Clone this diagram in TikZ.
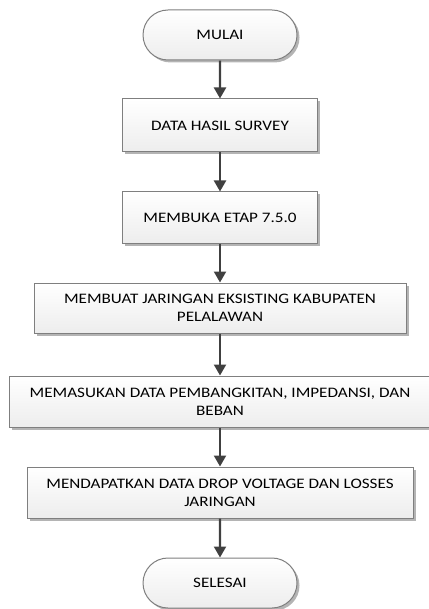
\documentclass[tikz,border=0pt]{standalone}
\usepackage{fontspec}
\setmainfont{Carlito}[FakeStretch=1.18]
\usetikzlibrary{arrows.meta,shapes.misc,shadows}
\definecolor{boxgray}{HTML}{7F7F7F}
\definecolor{fillgray}{HTML}{EDEDED}
\definecolor{arrowgray}{HTML}{404040}
\definecolor{shadowgray}{HTML}{B4B4B4}
\begin{document}
\begin{tikzpicture}[x=1pt,y=-1pt,
  base/.style={draw=boxgray, line width=1pt, top color=white, bottom color=fillgray,
    drop shadow={shadow xshift=2.5pt, shadow yshift=-2.5pt, fill=shadowgray, opacity=1},
    align=center, inner sep=0pt, text=black,
    font=\fontsize{14.5}{18}\selectfont},
  procbox/.style={base, rectangle},
  termbox/.style={base, rounded rectangle, minimum width=154pt, minimum height=50pt},
  flow/.style={draw=arrowgray, line width=2.2pt, -{Triangle[width=12pt,length=11pt]}}
]
\useasboundingbox (0,0) rectangle (428,609);
\node[termbox] (start) at (220,35) {MULAI};
\node[procbox, minimum width=195pt, minimum height=53pt] (b1) at (220,125.5) {DATA HASIL SURVEY};
\node[procbox, minimum width=195pt, minimum height=51pt] (b2) at (220,217.5) {MEMBUKA ETAP 7.5.0};
\node[procbox, minimum width=372pt, minimum height=50pt] (b3) at (220,308) {MEMBUAT JARINGAN EKSISTING KABUPATEN\\PELALAWAN};
\node[procbox, minimum width=422pt, minimum height=51pt] (b4) at (220,401.5) {MEMASUKAN DATA PEMBANGKITAN, IMPEDANSI, DAN\\BEBAN};
\node[procbox, minimum width=386pt, minimum height=51pt] (b5) at (220,492.5) {MENDAPATKAN DATA DROP VOLTAGE DAN LOSSES\\JARINGAN};
\node[termbox] (end) at (220,583) {SELESAI};
\draw[flow] (start) -- (b1);
\draw[flow] (b1) -- (b2);
\draw[flow] (b2) -- (b3);
\draw[flow] (b3) -- (b4);
\draw[flow] (b4) -- (b5);
\draw[flow] (b5) -- (end);
\end{tikzpicture}
\end{document}
